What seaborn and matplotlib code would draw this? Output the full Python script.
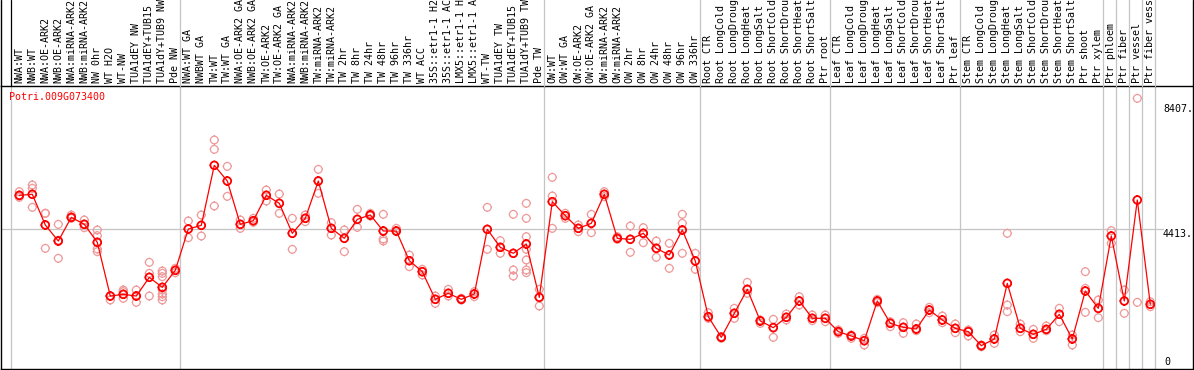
import numpy as np
import pandas as pd
import matplotlib
matplotlib.use("Agg")
import matplotlib.pyplot as plt
import seaborn as sns
from matplotlib.path import Path
from matplotlib.lines import Line2D

# ---------------- data ----------------
gene = "Potri.009G073400"

labels_nw = ["NWA:WT", "NWB:WT", "NWA:OE-ARK2", "NWB:OE-ARK2", "NWA:miRNA-ARK2",
             "NWB:miRNA-ARK2", "NW 0hr", "WT H2O", "WT-NW", "TUA1dEY NW",
             "TUA1dEY+TUB15 NW", "TUA1dY+TUB9 NW", "Pde NW"]
labels_tw = ["NWA:WT GA", "NWBWT GA", "TW:WT", "TW:WT GA", "NWA:OE-ARK2 GA",
             "NWB:OE-ARK2 GA", "TW:OE-ARK2", "TW:OE-ARK2 GA", "NWA:miRNA-ARK2",
             "NWB:miRNA-ARK2", "TW:miRNA-ARK2", "TW:miRNA-ARK2", "TW 2hr", "TW 8hr",
             "TW 24hr", "TW 48hr", "TW 96hr", "TW 336hr", "WT ACC", "35S::etr1-1 H2O",
             "35S::etr1-1 ACC", "LMX5::etr1-1 H2O", "LMX5::etr1-1 ACC", "WT-TW",
             "TUA1dEY TW", "TUA1dEY+TUB15 TW", "TUA1dY+TUB9 TW", "Pde TW"]
labels_ow = ["OW:WT", "OW:WT GA", "OW:OE-ARK2", "OW:OE-ARK2 GA", "OW:miRNA-ARK2",
             "OW:miRNA-ARK2", "OW 2hr", "OW 8hr", "OW 24hr", "OW 48hr", "OW 96hr",
             "OW 336hr"]
labels_root = ["Root CTR", "Root LongCold", "Root LongDrought", "Root LongHeat",
               "Root LongSalt", "Root ShortCold", "Root ShortDrought", "Root ShortHeat",
               "Root ShortSalt", "Ptr root"]
labels_leaf = ["Leaf CTR", "Leaf LongCold", "Leaf LongDrought", "Leaf LongHeat",
               "Leaf LongSalt", "Leaf ShortCold", "Leaf ShortDrought", "Leaf ShortHeat",
               "Leaf ShortSalt", "Ptr leaf"]
labels_stem = ["Stem CTR", "Stem LongCold", "Stem LongDrought", "Stem LongHeat",
               "Stem LongSalt", "Stem ShortCold", "Stem ShortDrought", "Stem ShortHeat",
               "Stem ShortSalt", "Ptr shoot", "Ptr xylem"]
labels_ptr = ["Ptr phloem", "Ptr fiber", "Ptr vessel", "Ptr fiber vessel"]

categories = labels_nw + labels_tw + labels_ow + labels_root + labels_leaf + labels_stem + labels_ptr

means = [5488, 5520, 4540, 4028, 4785, 4561, 3986, 2271, 2325, 2271, 2868, 2548, 3091,
         4412, 4529, 6446, 5946, 4561, 4678, 5488, 5232, 4274, 4753, 5946, 4433, 4114,
         4721, 4860, 4348, 4348, 3400, 3049, 2165, 2357, 2165, 2335, 4401, 3826, 3635,
         3933, 2229,
         5285, 4838, 4433, 4593, 5520, 4114, 4082, 4274, 3794, 3581, 4380, 3390,
         1611, 951, 1718, 2484, 1473, 1260, 1590, 2112, 1558, 1558,
         1132, 994, 844, 2112, 1398, 1270, 1217, 1824, 1505, 1238,
         1132, 684, 898, 2676, 1238, 1047, 1206, 1686, 898, 2431, 1877,
         4188, 2112, 5339, 2005]

replicates = [
    [5605, 5466, 5424], [5818, 5711, 5104], [4913, 4913, 3794], [4561, 4050, 3475],
    [4860, 4753], [4700, 4561, 4455], [4380, 4199, 3773, 3688], [2271, 2144],
    [2463, 2410, 2197], [2463, 2069], [3347, 2996, 2271],
    [3070, 2996, 2889, 2463, 2335, 2250, 2144], [3155, 3017],
    [4668, 4135], [4860, 4188], [7256, 6957, 5147], [6414, 5456], [4700, 4433],
    [4753, 4625], [5658, 5307], [5530, 4913], [4753, 3762], [4860, 4646],
    [6318, 5552], [4614, 4220], [4380, 3688], [5040, 4465], [4913, 4827],
    [4881, 4093, 4028], [4433, 4327], [3581, 3209], [3124, 2942], [2271, 2037],
    [2484, 2271], [2197, 2144], [2410, 2250], [5104, 3762], [4039, 3635],
    [4881, 3102, 2910], [5232, 4753, 4167, 3762, 3422, 3102, 3017], [2484, 1952],
    [6063, 5466, 4433], [4913, 4753], [4540, 4327], [4881, 4295], [5605, 5445],
    [4167, 4082], [4508, 3667], [4455, 3975], [4028, 3507], [3954, 3155],
    [4881, 4593, 3635], [3635, 3124],
    [1739, 1558], [972, 919], [1877, 1558], [2708, 2357], [1505, 1398], [1526, 951],
    [1696, 1505], [2250, 1984], [1664, 1483], [1664, 1451],
    [1185, 1079], [1026, 919], [919, 706], [2165, 2058], [1451, 1292], [1419, 1079],
    [1377, 1164], [1909, 1739], [1632, 1419], [1377, 1100],
    [1185, 994], [706, 652], [1026, 759], [4274, 1984, 1771], [1377, 1132],
    [1206, 919], [1313, 1164], [1877, 1451], [1026, 706], [3049, 2516, 1750],
    [2144, 1579],
    [4359, 3954], [2463, 1718], [8587, 2069], [2090, 1931],
]

group_sizes = [len(labels_nw), len(labels_tw), len(labels_ow), len(labels_root),
               len(labels_leaf), len(labels_stem), 1, 1, 1, 1]
tick_values = [4413, 8407]
tick_texts = ["4413.", "8407."]

# ---------------- build frames ----------------
idx = np.arange(len(categories))
df_mean = pd.DataFrame({"x": idx, "value": means})
rep_x, rep_v = [], []
for i, reps in enumerate(replicates):
    for v in reps:
        rep_x.append(i)
        rep_v.append(v)
df_rep = pd.DataFrame({"x": rep_x, "value": rep_v})

# ---------------- figure ----------------
sns.set_style("white")
plt.rcParams["font.family"] = ["DejaVu Sans Mono", "DejaVu Sans"]

W, H = 1194, 370
fig = plt.figure(figsize=(W / 100, H / 100), dpi=100)
fig.patch.set_facecolor("white")

ax_l, ax_r, ax_t, ax_b = 1.0, 1192.7, 86.0, 369.0
ax = fig.add_axes([ax_l / W, 1 - ax_b / H, (ax_r - ax_l) / W, (ax_b - ax_t) / H])

# pixel geometry for categories
x0_px, step_px = 19.3, 13.0
xmin = (ax_l - x0_px) / step_px
xmax = (ax_r - x0_px) / step_px
ax.set_xlim(xmin, xmax)
ax.set_ylim(-61, 8981)
ax.set_xticks([])
ax.set_yticks([])
for s in ax.spines.values():
    s.set_color("black")
    s.set_linewidth(1.0)

def xdata_to_px(xd):
    return x0_px + step_px * xd

grid_col = "#c4c4c4"
# group separators
bounds = [0]
for g in group_sizes:
    bounds.append(bounds[-1] + g)
for k, b in enumerate(bounds):
    xd = b - 0.65
    ax.axvline(xd, color=grid_col, lw=0.9, zorder=0)
    px = xdata_to_px(xd)
    col = "black" if k == 0 else grid_col
    fig.add_artist(Line2D([px / W, px / W], [1 - ax_t / H, 1.0], color=col, lw=0.9,
                          transform=fig.transFigure))

# left / right borders into header area
for px in (ax_l, ax_r):
    fig.add_artist(Line2D([px / W, px / W], [1 - ax_t / H, 1.0], color="black", lw=1.0,
                          transform=fig.transFigure))

# horizontal grid at middle tick
label_x_frac = (1163 - ax_l) / (ax_r - ax_l)
ax.axhline(tick_values[0], xmin=0, xmax=label_x_frac, color=grid_col, lw=0.9, zorder=0)

# marker: polygonal circle with four tiny ticks
th = np.linspace(0, 2 * np.pi, 33)
circ_v = list(zip(np.cos(th), np.sin(th)))
circ_c = [Path.MOVETO] + [Path.LINETO] * 31 + [Path.CLOSEPOLY]
tk = 1.2
tick_v = [(0, 1), (0, tk), (0, -1), (0, -tk), (1, 0), (tk, 0), (-1, 0), (-tk, 0)]
tick_c = [Path.MOVETO, Path.LINETO] * 4
sun = Path(circ_v + tick_v, circ_c + tick_c)

rep_col = "#ef9a9a"
sns.scatterplot(data=df_rep, x="x", y="value", ax=ax, marker=sun, s=44,
                facecolors="none", edgecolors=rep_col, linewidths=0.9, zorder=2,
                legend=False)
sns.lineplot(data=df_mean, x="x", y="value", ax=ax, color="red", lw=0.9,
             estimator=None, sort=False, zorder=3, legend=False)
sns.scatterplot(data=df_mean, x="x", y="value", ax=ax, marker=sun, s=44,
                facecolors="none", edgecolors="red", linewidths=1.3, zorder=4,
                legend=False)
ax.set_xlabel("")
ax.set_ylabel("")

# category labels (rotated; long ones run past the figure top as in the original)
lab_y = (ax_b - 83.0) / (ax_b - ax_t)
for i, lab in enumerate(categories):
    ax.text(i, lab_y, lab, transform=ax.get_xaxis_transform(), rotation=90,
            ha="center", va="bottom", fontsize=7.2, color="black", clip_on=False,
            family="DejaVu Sans Mono")

# y labels
ytr = ax.get_yaxis_transform()
for v, t in zip(tick_values, tick_texts):
    ax.text(label_x_frac, v, t, transform=ytr, ha="left", va="top", fontsize=7.2,
            color="black", family="DejaVu Sans Mono")
ax.text((1164 - ax_l) / (ax_r - ax_l), 0, "0", transform=ytr, ha="left", va="bottom",
        fontsize=7.2, color="black", family="DejaVu Sans Mono")

# gene name
fig.text(9 / W, 1 - 97 / H, gene, color="red", ha="left", va="center", fontsize=7.2,
         family="DejaVu Sans Mono")

fig.savefig("out.png", dpi=100)
